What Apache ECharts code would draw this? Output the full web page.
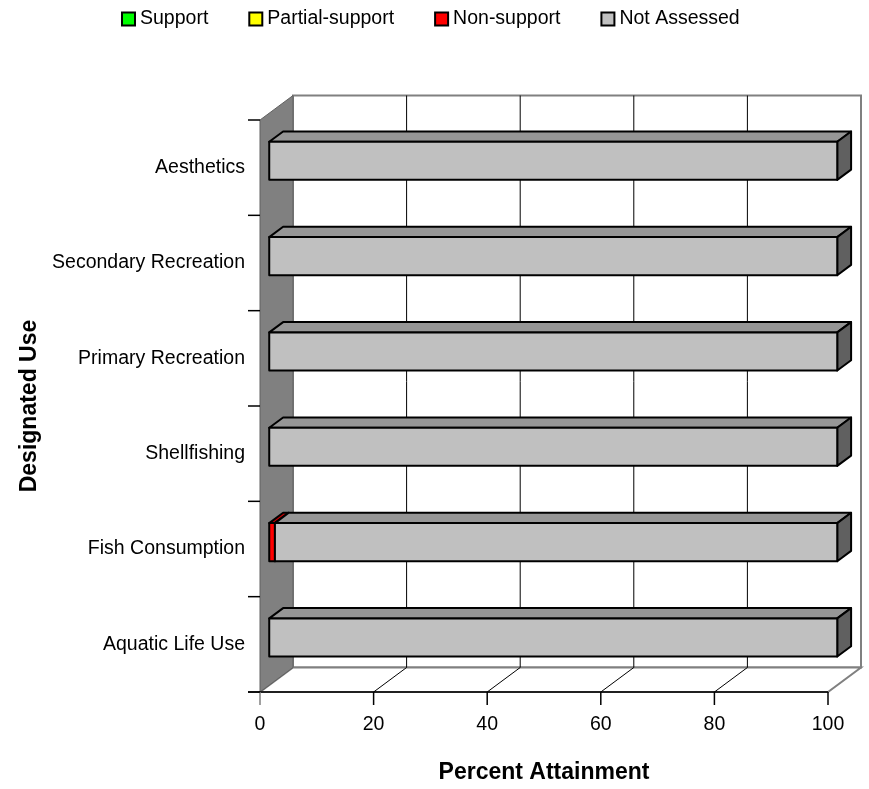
<!DOCTYPE html>
<html><head><meta charset="utf-8">
<script src="https://cdn.jsdelivr.net/npm/echarts@6/dist/echarts.min.js"></script>
<style>html,body{margin:0;padding:0;background:#fff}#c{width:869px;height:789px}</style>
</head><body><div id="c"></div>
<script>
// Data
var categories = ['Aquatic Life Use', 'Fish Consumption', 'Shellfishing', 'Primary Recreation', 'Secondary Recreation', 'Aesthetics'];
var seriesNames = ['Support', 'Partial-support', 'Non-support', 'Not Assessed'];
var support = [0, 0, 0, 0, 0, 0];
var partialSupport = [0, 0, 0, 0, 0, 0];
var nonSupport = [0, 1, 0, 0, 0, 0];
var notAssessed = [100, 99, 100, 100, 100, 100];
var xTicks = [0, 20, 40, 60, 80, 100];

var FRONT = ['#00FF00', '#FFFF00', '#FF0000', '#C0C0C0'];
var TOP = ['#00C000', '#C0C000', '#C00000', '#969696'];
var SIDE = ['#008000', '#808000', '#800000', '#606060'];

var DX = 33, DY = -24.5;       // depth vector of the 3D box
var F1 = 0.28, F2 = 0.70;      // bar depth fractions
var BAR = 0.40;                // bar thickness as fraction of category band

var chart = echarts.init(document.getElementById('c'));
var allSeries = [support, partialSupport, nonSupport, notAssessed];

function pt(p, f) { return [p[0] + DX * f, p[1] + DY * f]; }

function renderWalls(params, api) {
  var o = api.coord([0, 0]);
  var x0 = api.coord([0, 0])[0], x1 = api.coord([100, 0])[0];
  var band = api.size([0, 1])[1];
  var yb = o[1] + band / 2, yt = api.coord([0, categories.length - 1])[1] - band / 2;
  var ch = [];
  ch.push({type: 'polygon', shape: {points: [pt([x0, yt], 1), pt([x1, yt], 1), pt([x1, yb], 1), pt([x0, yb], 1)]},
    style: {fill: '#fff', stroke: '#808080', lineWidth: 2}});
  ch.push({type: 'polygon', shape: {points: [[x0, yb], pt([x0, yb], 1), pt([x1, yb], 1), [x1, yb]]},
    style: {fill: '#fff', stroke: '#808080', lineWidth: 2}});
  for (var i = 1; i < xTicks.length - 1; i++) {
    var xx = api.coord([xTicks[i], 0])[0];
    ch.push({type: 'polyline', shape: {points: [[xx, yb], pt([xx, yb], 1), pt([xx, yt], 1)]},
      style: {fill: null, stroke: '#000', lineWidth: 1}});
  }
  ch.push({type: 'polygon', shape: {points: [[x0, yt], pt([x0, yt], 1), pt([x0, yb], 1), [x0, yb]]},
    style: {fill: '#808080', stroke: '#606060', lineWidth: 1}});
  ch.push({type: 'line', shape: {x1: x0 - 12, y1: yb, x2: x1, y2: yb}, style: {stroke: '#000', lineWidth: 1.5}});
  for (var k = 0; k < xTicks.length; k++) {
    var tx = api.coord([xTicks[k], 0])[0];
    ch.push({type: 'line', shape: {x1: tx, y1: yb, x2: tx, y2: yb + 13}, style: {stroke: k === 0 ? '#808080' : '#000', lineWidth: 1.5}});
  }
  for (var c = 0; c <= categories.length; c++) {
    var ty = yb - c * band;
    ch.push({type: 'line', shape: {x1: x0 - 12, y1: ty, x2: x0, y2: ty}, style: {stroke: '#000', lineWidth: 1.5}});
  }
  return {type: 'group', children: ch};
}

function makeBarSeries(si) {
  return {
    type: 'custom', name: seriesNames[si], z: 10 + si,
    data: categories.map(function (c, ci) {
      var start = 0;
      for (var j = 0; j < si; j++) start += allSeries[j][ci];
      return [start, start + allSeries[si][ci], ci];
    }),
    encode: {x: [0, 1], y: 2},
    renderItem: function (params, api) {
      var v0 = api.value(0), v1 = api.value(1), ci = api.value(2);
      if (v1 - v0 <= 0) return null;
      var a = api.coord([v0, ci]), b = api.coord([v1, ci]);
      var h = api.size([0, 1])[1] * BAR;
      var yT = a[1] - h / 2, yB = a[1] + h / 2;
      var fl = [a[0], yT], fr = [b[0], yT], br = [b[0], yB], bl = [a[0], yB];
      var st = {stroke: '#000', lineWidth: 2, lineJoin: 'round'};
      return {type: 'group', children: [
        {type: 'polygon', shape: {points: [pt(fl, F1), pt(fl, F2), pt(fr, F2), pt(fr, F1)]}, style: Object.assign({fill: TOP[si]}, st)},
        {type: 'polygon', shape: {points: [pt(fr, F1), pt(fr, F2), pt(br, F2), pt(br, F1)]}, style: Object.assign({fill: SIDE[si]}, st)},
        {type: 'polygon', shape: {points: [pt(fl, F1), pt(fr, F1), pt(br, F1), pt(bl, F1)]}, style: Object.assign({fill: FRONT[si]}, st)}
      ]};
    }
  };
}

var series = [{
  type: 'custom', name: '_walls', z: 1, silent: true,
  data: [[0, 0]], encode: {x: 0, y: 1},
  renderItem: renderWalls
}];
for (var s = 0; s < 4; s++) series.push(makeBarSeries(s));

var FONT = 'Liberation Sans, Arial, sans-serif';
chart.setOption({
  animation: false,
  legend: {
    data: seriesNames.map(function (n, i) { return {name: n, itemStyle: {color: FRONT[i], borderColor: '#000', borderWidth: 2}}; }),
    top: 4, left: 116, itemWidth: 13, itemHeight: 13, itemGap: 40, icon: 'rect',
    textStyle: {fontFamily: FONT, fontSize: 19.5, color: '#000'}
  },
  grid: {left: 260, right: 41, top: 120, bottom: 96},
  xAxis: {
    type: 'value', min: 0, max: 100, interval: 20,
    name: 'Percent Attainment', nameLocation: 'middle', nameGap: 69,
    nameTextStyle: {fontFamily: FONT, fontSize: 23, fontWeight: 'bold', color: '#000'},
    axisLine: {show: false}, axisTick: {show: false}, splitLine: {show: false},
    axisLabel: {fontFamily: FONT, fontSize: 19.5, color: '#000', margin: 23}
  },
  yAxis: {
    type: 'category', data: categories,
    name: 'Designated Use', nameLocation: 'middle', nameGap: 210, nameRotate: 90,
    nameTextStyle: {fontFamily: FONT, fontSize: 23, fontWeight: 'bold', color: '#000'},
    axisLine: {show: false}, axisTick: {show: false}, splitLine: {show: false},
    axisLabel: {fontFamily: FONT, fontSize: 19.5, color: '#000', margin: 15}
  },
  series: series
});
</script></body></html>
